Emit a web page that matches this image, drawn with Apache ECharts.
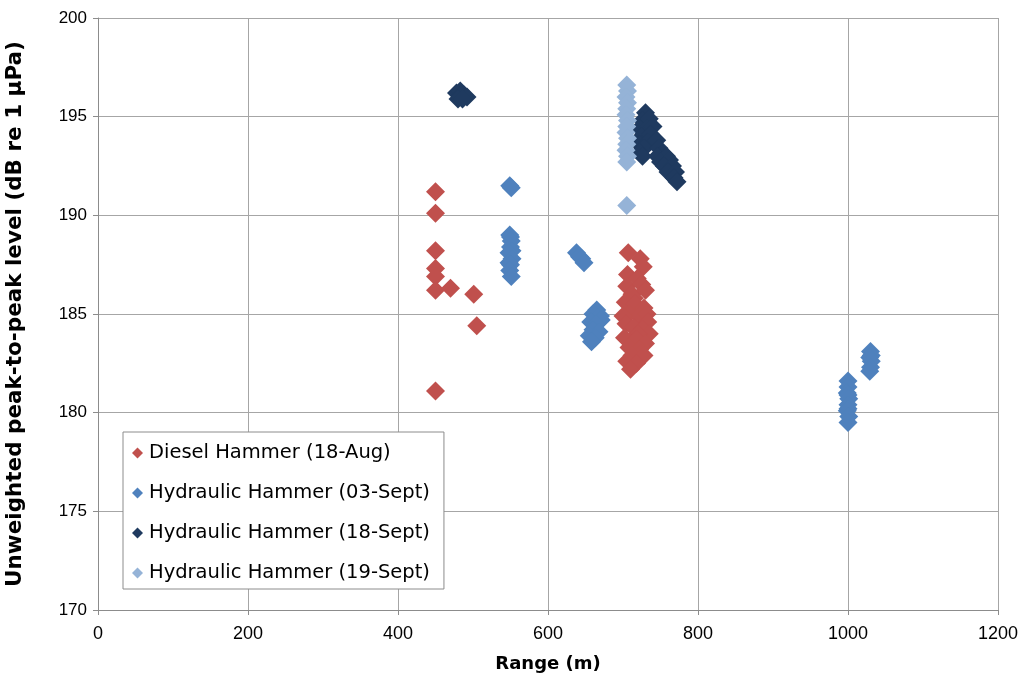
<!DOCTYPE html>
<html>
<head>
<meta charset="utf-8">
<script src="https://cdn.jsdelivr.net/npm/echarts@6/dist/echarts.min.js"></script>
<style>html,body{margin:0;padding:0;background:#fff;}#c{width:1026px;height:683px;}</style>
</head>
<body>
<div id="c"></div>
<script>
const seriesNames = ['Diesel Hammer (18-Aug)','Hydraulic Hammer (03-Sept)','Hydraulic Hammer (18-Sept)','Hydraulic Hammer (19-Sept)'];
const seriesColors = ['#C0504D','#4F81BD','#1F3A5F','#95B3D7'];

const diesel18Aug = [
  [450,191.2],[450,190.1],[450,188.2],[450,187.3],[450,186.9],[450,186.2],[470,186.3],[501,186.0],[505,184.4],[450,181.1],
  [707,188.1],[723,187.8],[727,187.4],[706,187.0],[719,186.8],[705,186.4],[725,186.5],[712,186.0],[730,186.2],[715,185.8],
  [703,185.6],[716,185.5],[728,185.3],[708,185.0],[722,184.9],[700,184.9],[732,185.0],[733,184.6],[704,184.5],[714,184.3],
  [726,184.2],[735,184.0],[720,184.0],[702,183.8],[718,183.7],[730,183.5],[708,183.3],[722,183.2],[724,183.0],[712,182.9],
  [728,182.9],[705,182.6],[718,182.5],[710,182.2]
];
const hydraulic03Sept = [
  [549,191.5],[551,191.4],
  [549,189.0],[550,188.9],[551,188.7],[550,188.4],[552,188.2],[548,188.1],[552,187.8],[548,187.6],[550,187.5],[549,187.2],[551,186.9],
  [638,188.1],[642,187.9],[645,187.8],[648,187.6],
  [665,185.2],[660,185.0],[670,184.9],[666,184.8],[671,184.7],[657,184.6],[664,184.5],[660,184.2],[668,184.1],[655,183.9],[663,183.8],[658,183.6],
  [1000,181.6],[1000,181.3],[999,181.0],[1000,180.9],[1001,180.7],[1000,180.4],[1000,180.2],[999,180.1],[1001,179.8],[1000,179.5],
  [1030,183.1],[1031,182.9],[1029,182.8],[1031,182.6],[1030,182.3],[1029,182.1]
];
const hydraulic18Sept = [
  [478,196.2],[483,196.3],[488,196.1],[484,196.1],[492,196.0],[480,195.9],[486,195.9],
  [730,195.2],[726,194.8],[735,194.9],[722,194.4],[732,194.4],[740,194.5],[725,194.0],[737,194.1],[722,193.6],[733,193.7],
  [745,193.8],[728,193.4],[722,193.2],[726,193.0],[748,193.4],[752,193.1],[746,193.0],[758,193.0],[750,192.7],[762,192.8],
  [755,192.5],[766,192.5],[760,192.2],[770,192.2],[768,191.9],[772,191.7]
];
const hydraulic19Sept = [
  [705,196.6],[706,196.3],[704,196.0],[706,195.7],[705,195.4],[704,195.1],[706,194.8],[705,194.5],[704,194.2],[706,193.9],
  [705,193.6],[704,193.3],[706,193.0],[705,192.7],[705,190.5]
];
const allData = [diesel18Aug, hydraulic03Sept, hydraulic18Sept, hydraulic19Sept];

const font = 'Liberation Sans, Arial, sans-serif';
const wideFont = 'DejaVu Sans, Liberation Sans, sans-serif';
const chart = echarts.init(document.getElementById('c'), null, {renderer:'canvas'});
chart.setOption({
  animation: false,
  backgroundColor: '#fff',
  grid: {left: 98, right: 28, top: 18, bottom: 73, containLabel: false, outerBoundsMode: 'none'},
  legend: {
    orient: 'vertical', left: 123, top: 432,
    backgroundColor: '#fff', borderColor: '#8c8c8c', borderWidth: 1,
    padding: [11, 14, 6, 9], itemGap: 20,
    icon: 'diamond', itemWidth: 11, itemHeight: 11,
    textStyle: {fontFamily: wideFont, fontSize: 19.5, color: '#000', padding: [0,0,0,1], lineHeight: 20},
    data: seriesNames
  },
  xAxis: {
    type: 'value', min: 0, max: 1200, interval: 200,
    name: 'Range (m)', nameLocation: 'middle', nameGap: 45,
    nameTextStyle: {fontFamily: wideFont, fontSize: 18, fontWeight: 'bold', color: '#000'},
    axisLine: {show: true, lineStyle: {color: '#8c8c8c', width: 1}},
    axisTick: {show: true, length: 5, lineStyle: {color: '#8c8c8c'}},
    axisLabel: {fontFamily: font, fontSize: 18, color: '#000', margin: 15, formatter: v => String(v)},
    splitLine: {show: true, lineStyle: {color: '#a6a6a6', width: 1}}
  },
  yAxis: {
    type: 'value', min: 170, max: 200, interval: 5,
    name: 'Unweighted peak-to-peak level (dB re 1 µPa)', nameLocation: 'middle', nameGap: 72,
    nameTextStyle: {fontFamily: wideFont, fontSize: 21.5, fontWeight: 'bold', color: '#000'},
    axisLine: {show: true, lineStyle: {color: '#8c8c8c', width: 1}},
    axisTick: {show: true, length: 5, lineStyle: {color: '#8c8c8c'}},
    axisLabel: {fontFamily: font, fontSize: 17, color: '#000', margin: 11, formatter: v => String(v)},
    splitLine: {show: true, lineStyle: {color: '#a6a6a6', width: 1}}
  },
  series: allData.map((d, i) => ({
    name: seriesNames[i], type: 'scatter', data: d,
    symbol: 'diamond', symbolSize: 19,
    itemStyle: {color: seriesColors[i], opacity: 1},
    z: 2 + i
  }))
});
</script>
</body>
</html>
